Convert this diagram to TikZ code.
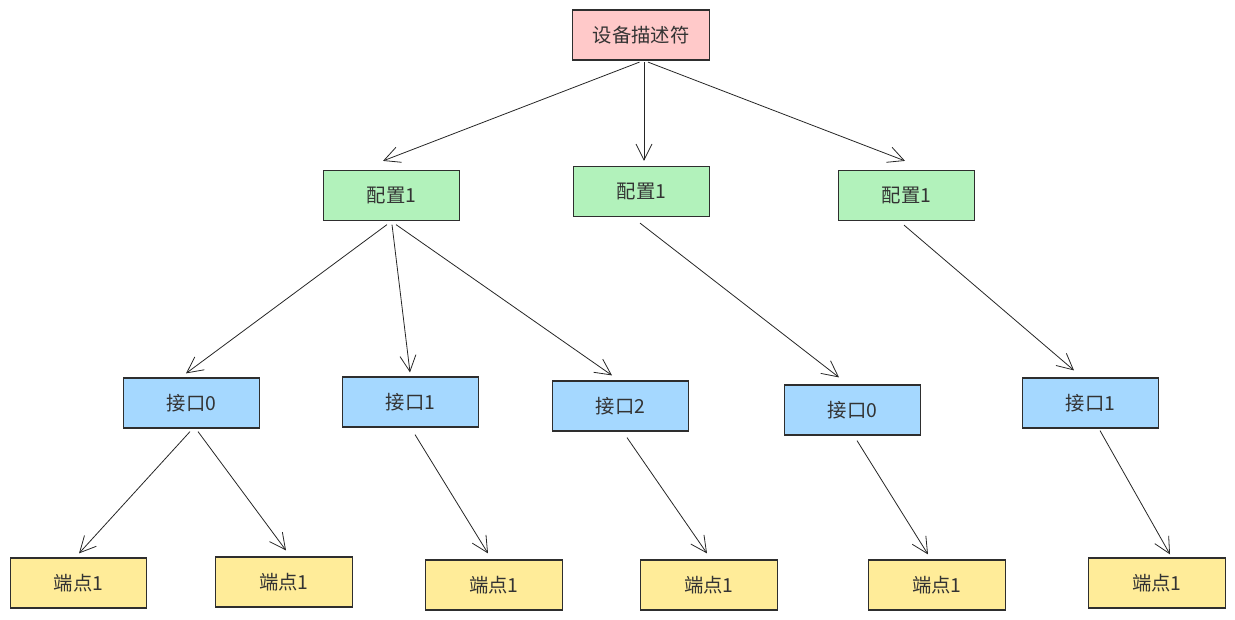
\documentclass[tikz,border=0pt]{standalone}
\usepackage{fontspec}
\setmainfont{Noto Sans CJK SC}
\usetikzlibrary{arrows.meta}
\definecolor{rootfill}{HTML}{FFC9C9}
\definecolor{cfgfill}{HTML}{B2F2BB}
\definecolor{iffill}{HTML}{A5D8FF}
\definecolor{epfill}{HTML}{FFEC99}
\definecolor{edge}{HTML}{2E2E2E}
\tikzset{
  box/.style={draw=edge, line width=0.9pt, minimum width=102.5pt, minimum height=37.5pt, inner sep=0pt, font=\fontsize{14.5pt}{17pt}\selectfont, text=black!80},
  rootbox/.style={box, fill=rootfill},
  cfgbox/.style={box, fill=cfgfill},
  ifbox/.style={box, fill=iffill},
  epbox/.style={box, fill=epfill},
  arr/.style={draw=black!85, line width=0.6pt, -{Straight Barb[length=12pt,width=12pt,line width=0.6pt]}}
}
\begin{document}
\begin{tikzpicture}[x=0.75pt,y=-0.75pt]
\useasboundingbox (0,0) rectangle (1235,620);
\node[rootbox] (root) at (641,35) {设备描述符};
\node[cfgbox] (c1) at (391.5,195.5) {配置1};
\node[cfgbox] (c2) at (641.5,191.5) {配置1};
\node[cfgbox] (c3) at (906.5,195.5) {配置1};
\node[ifbox] (i1) at (191.5,403) {接口0};
\node[ifbox] (i2) at (410.5,402) {接口1};
\node[ifbox] (i3) at (620.5,406) {接口2};
\node[ifbox] (i4) at (852.5,410) {接口0};
\node[ifbox] (i5) at (1090.5,403) {接口1};
\node[epbox] (e1) at (78.5,583) {端点1};
\node[epbox] (e2) at (284,582) {端点1};
\node[epbox] (e3) at (494,585) {端点1};
\node[epbox] (e4) at (709,585) {端点1};
\node[epbox] (e5) at (937,585) {端点1};
\node[epbox] (e6) at (1157,583) {端点1};
% root -> configs
\draw[arr] ([shift={(-1.5,1.5)}]root.south) -- ([shift={(-8.5,-9)}]c1.north);
\draw[arr] ([shift={(3,1.5)}]root.south) -- ([shift={(2.5,-5)}]c2.north);
\draw[arr] ([shift={(7,1.5)}]root.south) -- ([shift={(-1.5,-9)}]c3.north);
% config1 -> interfaces
\draw[arr] ([shift={(-4.5,3.5)}]c1.south) -- ([shift={(-5.5,-4)}]i1.north);
\draw[arr] ([shift={(0.5,3.5)}]c1.south) -- ([shift={(-0.5,-4)}]i2.north);
\draw[arr] ([shift={(4.5,3.5)}]c1.south) -- ([shift={(-8.5,-5)}]i3.north);
\draw[arr] ([shift={(-1.5,6)}]c2.south) -- ([shift={(-13.5,-7)}]i4.north);
\draw[arr] ([shift={(-2.5,4)}]c3.south) -- ([shift={(-16.5,-7)}]i5.north);
% interfaces -> endpoints
\draw[arr] ([shift={(-1.5,3)}]i1.south) -- ([shift={(0.5,-4)}]e1.north);
\draw[arr] ([shift={(6.5,3)}]i1.south) -- ([shift={(2,-6)}]e2.north);
\draw[arr] ([shift={(4.5,7)}]i2.south) -- ([shift={(-6,-6)}]e3.north);
\draw[arr] ([shift={(6.5,6)}]i3.south) -- ([shift={(-2,-6)}]e4.north);
\draw[arr] ([shift={(4.5,5)}]i4.south) -- ([shift={(-9,-5)}]e5.north);
\draw[arr] ([shift={(9.5,2)}]i5.south) -- ([shift={(13,-3)}]e6.north);
\end{tikzpicture}
\end{document}
